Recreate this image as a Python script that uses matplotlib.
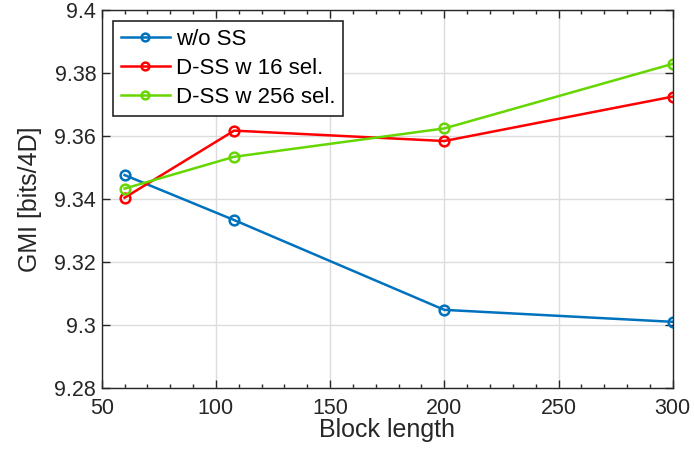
import numpy as np
import matplotlib.pyplot as plt
from matplotlib.ticker import MultipleLocator

plt.rcParams['font.family'] = ['Liberation Sans', 'DejaVu Sans']
plt.rcParams['axes.linewidth'] = 1.0

# data
block_len = [60, 108, 200, 300]
gmi_woss = [9.3477, 9.3334, 9.3049, 9.3011]
gmi_dss16 = [9.3405, 9.3618, 9.3585, 9.3726]
gmi_dss256 = [9.3434, 9.3535, 9.3625, 9.3830]

labels = ['w/o SS', 'D-SS w 16 sel.', 'D-SS w 256 sel.']
colors = ['#0072BD', '#FF0000', '#66D600']

fig = plt.figure(figsize=(6.94, 4.68), dpi=100)
ax = fig.add_axes([0.1466, 0.1703, 0.8227, 0.8077])

for y, lab, col in zip([gmi_woss, gmi_dss16, gmi_dss256], labels, colors):
    ax.plot(block_len, y, color=col, linewidth=1.8, marker='o', markersize=7,
            markerfacecolor='none', markeredgewidth=1.8, label=lab)

ax.set_xlim(50, 300)
ax.set_ylim(9.28, 9.4)
ax.set_xticks([50, 100, 150, 200, 250, 300])
ax.set_yticks([9.28, 9.3, 9.32, 9.34, 9.36, 9.38, 9.4])
ax.set_yticklabels(['9.28', '9.3', '9.32', '9.34', '9.36', '9.38', '9.4'])
ax.xaxis.set_minor_locator(MultipleLocator(10))

ax.grid(True, color='#dcdcdc', linewidth=1.0)
ax.set_axisbelow(True)
for s in ax.spines.values():
    s.set_color('#262626')
ax.tick_params(which='both', direction='in', top=True, right=True,
               colors='#262626', labelsize=15.5)
ax.tick_params(axis='x', pad=7)
ax.tick_params(axis='y', pad=4)
ax.tick_params(which='major', length=6, width=1.0)
ax.tick_params(which='minor', length=3, width=1.0)

ax.set_xlabel('Block length', fontsize=18, color='#262626', labelpad=-1)
ax.set_ylabel('GMI [bits/4D]', fontsize=18, color='#262626', labelpad=9)

leg = ax.legend(loc='upper left', fontsize=16, frameon=True, fancybox=False,
                edgecolor='#262626', framealpha=1, handlelength=2.2,
                borderaxespad=0.5, borderpad=0.35, labelspacing=0.35,
                handletextpad=0.3, markerscale=0.8)
leg.get_frame().set_linewidth(1.2)

fig.savefig('out.png', dpi=100)
